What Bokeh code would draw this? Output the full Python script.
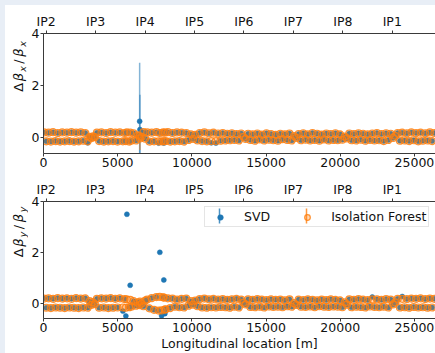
import math
from bokeh.plotting import figure
from bokeh.models import (LinearAxis, FixedTicker, SingleIntervalTicker, Range1d,
                          ColumnDataSource, Legend, LegendItem, Label, BoxAnnotation)
from bokeh.layouts import column, row
from bokeh.embed import file_html
from bokeh.resources import INLINE

# Interaction points along the ring (top axis)
ip_names = ["IP2", "IP3", "IP4", "IP5", "IP6", "IP7", "IP8", "IP1"]
ip_pos = [180, 3512, 6845, 10177, 13510, 16842, 20174, 23507]

# BPM longitudinal positions [m]
bpm_s = [
    30, 190, 340, 500, 650, 810, 960, 1120, 1270, 1430, 1580, 1740, 1890, 2050, 2200, 2360, 2510, 2670, 2820, 2980,
    3100, 3220, 3340, 3460,
    3600, 3750, 3910, 4060, 4220, 4370, 4530, 4680, 4840, 4990, 5150, 5350, 5460, 5550, 5620, 5770, 5840, 5920, 6080, 6230,
    6360, 6480, 6500, 6620, 6740, 6860,
    6990, 7140, 7300, 7450, 7610, 7760, 7840, 7960, 8070, 8110, 8180, 8230, 8380, 8540, 8690, 8850, 9000, 9160, 9310, 9470, 9620,
    9780, 9930, 10080, 10230, 10380,
    10530, 10690, 10840, 11000, 11150, 11310, 11460, 11620, 11770, 11930, 12080, 12240, 12390, 12550, 12700, 12860, 13010, 13170, 13320,
    13480, 13630,
    13790, 13940, 14100, 14250, 14410, 14560, 14720, 14870, 15030, 15180, 15340, 15490, 15650, 15800, 15960, 16110, 16270, 16420, 16580, 16730,
    16890, 17040,
    17200, 17350, 17510, 17660, 17820, 17970, 18130, 18280, 18440, 18590, 18750, 18900, 19060, 19210, 19370, 19520, 19680, 19830, 19990, 20140,
    20300, 20450,
    20610, 20760, 20920, 21070, 21230, 21380, 21540, 21690, 21850, 22000, 22160, 22310, 22470, 22620, 22780, 22930, 23090, 23240, 23400,
    23560, 23710,
    23870, 24020, 24180, 24330, 24490, 24640, 24800, 24950, 25110, 25260, 25420, 25570, 25730, 25880, 26040, 26190, 26350,
]

# Horizontal beta-beating
dbx_svd = [
    0.19, -0.15, 0.18, -0.16, 0.20, -0.14, 0.17, -0.16, 0.19, -0.15, 0.18, -0.14, 0.20, -0.16, 0.18, -0.15, 0.19, -0.13, 0.17, -0.21,
    0.02, -0.03, 0.04, 0.01,
    0.18, -0.14, 0.19, -0.16, 0.17, -0.15, 0.20, -0.14, 0.18, -0.16, 0.19, -0.15, 0.17, -0.14, 0.19, -0.16, 0.18, -0.13, 0.16, -0.12,
    0.08, 0.62, 0.30, 0.02, 0.20, -0.05,
    0.19, -0.16, 0.18, -0.15, 0.20, -0.22, 0.17, -0.15, 0.19, -0.22, 0.18, -0.14, 0.20, -0.16, 0.17, -0.15, 0.19, -0.14, 0.18, -0.16, 0.17,
    -0.10, 0.12, -0.06, 0.10, -0.12,
    0.17, -0.14, 0.19, -0.15, 0.16, -0.21, 0.18, -0.22, 0.15, -0.13, 0.17, -0.12, 0.14, -0.11, 0.16, -0.10, 0.13, -0.12, 0.15,
    0.02, -0.06,
    0.14, -0.10, 0.12, -0.13, 0.15, -0.08, 0.11, -0.12, 0.16, -0.09, 0.13, -0.11, 0.10, -0.13, 0.14, -0.07, 0.12, -0.10, 0.15, -0.12,
    0.05, -0.02,
    0.13, -0.11, 0.16, -0.09, 0.12, -0.12, 0.17, -0.10, 0.14, -0.13, 0.11, -0.08, 0.15, -0.12, 0.13, -0.10, 0.16, -0.11, 0.12, -0.09,
    0.03, -0.04,
    0.15, -0.11, 0.13, -0.12, 0.16, -0.09, 0.14, -0.13, 0.12, -0.10, 0.15, -0.12, 0.17, -0.11, 0.13, -0.14, 0.16, -0.10, 0.14,
    -0.02, 0.06,
    0.17, -0.13, 0.18, -0.12, 0.16, -0.14, 0.19, -0.11, 0.17, -0.15, 0.18, -0.13, 0.16, -0.12, 0.19, -0.14, 0.17,
]
dbx_if = [
    0.19, -0.15, 0.18, -0.16, 0.20, -0.14, 0.17, -0.16, 0.19, -0.15, 0.18, -0.14, 0.20, -0.16, 0.18, -0.15, 0.19, -0.13, 0.17, -0.15,
    0.02, -0.03, 0.04, 0.01,
    0.18, -0.14, 0.19, -0.16, 0.17, -0.15, 0.20, -0.14, 0.18, -0.16, 0.19, -0.15, 0.17, -0.14, 0.19, -0.16, 0.18, -0.13, 0.16, -0.12,
    0.08, 0.05, -0.04, 0.02, 0.20, -0.05,
    0.19, -0.16, 0.18, -0.15, 0.20, -0.15, 0.17, -0.15, 0.19, -0.15, 0.18, -0.14, 0.20, -0.16, 0.17, -0.15, 0.19, -0.14, 0.18, -0.16, 0.17,
    -0.10, 0.12, -0.06, 0.10, -0.12,
    0.17, -0.14, 0.19, -0.15, 0.16, -0.14, 0.18, -0.14, 0.15, -0.13, 0.17, -0.12, 0.14, -0.11, 0.16, -0.10, 0.13, -0.12, 0.15,
    0.02, -0.06,
    0.14, -0.10, 0.12, -0.13, 0.15, -0.08, 0.11, -0.12, 0.16, -0.09, 0.13, -0.11, 0.10, -0.13, 0.14, -0.07, 0.12, -0.10, 0.15, -0.12,
    0.05, -0.02,
    0.13, -0.11, 0.16, -0.09, 0.12, -0.12, 0.17, -0.10, 0.14, -0.13, 0.11, -0.08, 0.15, -0.12, 0.13, -0.10, 0.16, -0.11, 0.12, -0.09,
    0.03, -0.04,
    0.15, -0.11, 0.13, -0.12, 0.16, -0.09, 0.14, -0.13, 0.12, -0.10, 0.15, -0.12, 0.17, -0.11, 0.13, -0.14, 0.16, -0.10, 0.14,
    -0.02, 0.06,
    0.17, -0.13, 0.18, -0.12, 0.16, -0.14, 0.19, -0.11, 0.17, -0.15, 0.18, -0.13, 0.16, -0.12, 0.19, -0.14, 0.17,
]

# Vertical beta-beating
dby_svd = [
    0.20, -0.16, 0.21, -0.17, 0.19, -0.15, 0.22, -0.16, 0.20, -0.17, 0.21, -0.15, 0.19, -0.16, 0.22, -0.17, 0.20, -0.15, 0.21, -0.16,
    0.10, -0.05, 0.06, -0.02,
    0.19, -0.16, 0.21, -0.15, 0.20, -0.17, 0.22, -0.16, 0.19, -0.15, 0.21, -0.29, 0.18, -0.48, 3.50, -0.14, 0.72, -0.12, 0.10, -0.08,
    0.04, -0.06, 0.08, 0.00, -0.10, 0.12,
    0.16, -0.18, 0.22, -0.24, 0.26, -0.27, 2.01, -0.47, 0.25, 0.93, -0.39, -0.22, 0.21, -0.17, 0.20, -0.12, 0.16, -0.14, 0.19, -0.15, 0.20,
    -0.08, 0.10, -0.04, 0.12, -0.10,
    0.18, -0.15, 0.20, -0.16, 0.17, -0.14, 0.19, -0.15, 0.16, -0.13, 0.18, -0.14, 0.15, -0.16, 0.17, -0.12, 0.19, -0.15, 0.16,
    0.04, -0.03,
    0.17, -0.13, 0.15, -0.14, 0.18, -0.12, 0.16, -0.15, 0.14, -0.11, 0.17, -0.13, 0.15, -0.12, 0.16, -0.14, 0.13, -0.10, 0.17, -0.12,
    0.02, -0.05,
    0.16, -0.12, 0.14, -0.13, 0.17, -0.11, 0.15, -0.14, 0.13, -0.10, 0.16, -0.12, 0.14, -0.13, 0.17, -0.11, 0.15, -0.12, 0.13, -0.14,
    0.05, -0.04,
    0.17, -0.14, 0.15, -0.12, 0.18, -0.13, 0.16, -0.15, 0.14, -0.11, 0.26, -0.13, 0.17, -0.14, 0.15, -0.12, 0.18, -0.15, 0.16,
    -0.03, 0.05,
    0.19, -0.15, 0.28, -0.14, 0.18, -0.16, 0.20, -0.13, 0.19, -0.15, 0.21, -0.14, 0.18, -0.16, 0.20, -0.15, 0.19,
]
dby_if = [
    0.20, -0.16, 0.21, -0.17, 0.19, -0.15, 0.22, -0.16, 0.20, -0.17, 0.21, -0.15, 0.19, -0.16, 0.22, -0.17, 0.20, -0.15, 0.21, -0.16,
    0.10, -0.05, 0.06, -0.02,
    0.19, -0.16, 0.21, -0.15, 0.20, -0.17, 0.22, -0.16, 0.19, -0.15, 0.21, -0.15, 0.18, -0.16, 0.17, -0.14, 0.15, -0.12, 0.10, -0.08,
    0.04, -0.06, 0.08, 0.00, -0.10, 0.12,
    0.16, -0.18, 0.22, -0.24, 0.26, -0.27, 0.27, -0.26, 0.25, 0.24, -0.23, -0.22, 0.21, -0.17, 0.20, -0.12, 0.16, -0.14, 0.19, -0.15, 0.20,
    -0.08, 0.10, -0.04, 0.12, -0.10,
    0.18, -0.15, 0.20, -0.16, 0.17, -0.14, 0.19, -0.15, 0.16, -0.13, 0.18, -0.14, 0.15, -0.16, 0.17, -0.12, 0.19, -0.15, 0.16,
    0.04, -0.03,
    0.17, -0.13, 0.15, -0.14, 0.18, -0.12, 0.16, -0.15, 0.14, -0.11, 0.17, -0.13, 0.15, -0.12, 0.16, -0.14, 0.13, -0.10, 0.17, -0.12,
    0.02, -0.05,
    0.16, -0.12, 0.14, -0.13, 0.17, -0.11, 0.15, -0.14, 0.13, -0.10, 0.16, -0.12, 0.14, -0.13, 0.17, -0.11, 0.15, -0.12, 0.13, -0.14,
    0.05, -0.04,
    0.17, -0.14, 0.15, -0.12, 0.18, -0.13, 0.16, -0.15, 0.14, -0.11, 0.17, -0.13, 0.17, -0.14, 0.15, -0.12, 0.18, -0.15, 0.16,
    -0.03, 0.05,
    0.19, -0.15, 0.19, -0.14, 0.18, -0.16, 0.20, -0.13, 0.19, -0.15, 0.21, -0.14, 0.18, -0.16, 0.20, -0.15, 0.19,
]

# Uncertainties that are large enough to show (position, half-width)
dbx_svd_err_s = [6480, 6500]
dbx_svd_err = [2.25, 1.34]
dbx_if_err_s = [6500]
dbx_if_err = [0.45]

for arr in (dbx_svd, dbx_if, dby_svd, dby_if):
    assert len(arr) == len(bpm_s), (len(arr), len(bpm_s))

BLUE = "#1f77b4"
ORANGE = "#ff7f0e"
FONT = "DejaVu Sans"
FS = "12.5px"
AXIS_COLOR = "#3a3a3a"
TEXT_COLOR = "#111111"
X_END = 26420
LABEL_W = 23          # width of the strip holding the rotated y label
PLOT_W = 430 - LABEL_W


def style_axis(ax):
    ax.axis_line_color = AXIS_COLOR
    ax.axis_line_width = 1
    ax.major_tick_line_color = AXIS_COLOR
    ax.major_tick_in = 0
    ax.major_tick_out = 3
    ax.minor_tick_line_color = None
    ax.major_label_text_font = FONT
    ax.major_label_text_font_size = FS
    ax.major_label_text_color = TEXT_COLOR
    ax.major_label_standoff = 1


def err_source(s_list, e_list, vals):
    lookup = dict(zip(bpm_s, vals))
    ys = [lookup[s] for s in s_list]
    return ColumnDataSource(dict(s=s_list,
                                 lo=[y - e for y, e in zip(ys, e_list)],
                                 hi=[y + e for y, e in zip(ys, e_list)]))


def make_panel(height, y_lo, top_border, bottom_border, svd, iso, svd_err=None, iso_err=None,
               xlabel=None):
    p = figure(width=PLOT_W, height=height, output_backend="svg", toolbar_location=None,
               x_range=Range1d(0, X_END), y_range=Range1d(y_lo, 4.0),
               min_border_left=15, min_border_right=0,
               min_border_top=top_border, min_border_bottom=bottom_border,
               background_fill_color="white", border_fill_color="white")
    p.outline_line_color = None
    p.grid.visible = False

    p.xaxis.ticker = SingleIntervalTicker(interval=5000, num_minor_ticks=0)
    p.yaxis.ticker = SingleIntervalTicker(interval=2, num_minor_ticks=0)
    style_axis(p.xaxis[0])
    style_axis(p.yaxis[0])
    if xlabel:
        p.xaxis.axis_label = xlabel
        p.xaxis.axis_label_text_font = FONT
        p.xaxis.axis_label_text_font_size = FS
        p.xaxis.axis_label_text_font_style = "normal"
        p.xaxis.axis_label_standoff = 1
        p.xaxis.axis_label_text_color = TEXT_COLOR

    top = LinearAxis(ticker=FixedTicker(ticks=ip_pos, minor_ticks=[]),
                     major_label_overrides={pos: name for pos, name in zip(ip_pos, ip_names)})
    style_axis(top)
    top.major_label_standoff = 2
    p.add_layout(top, "above")

    if svd_err is not None:
        p.segment(x0="s", y0="lo", x1="s", y1="hi", source=svd_err,
                  line_color=BLUE, line_alpha=0.55, line_width=1.5)
    if iso_err is not None:
        p.segment(x0="s", y0="lo", x1="s", y1="hi", source=iso_err,
                  line_color=ORANGE, line_alpha=0.55, line_width=1.5)

    r_svd = p.scatter(bpm_s, svd, size=5, fill_color=BLUE, line_color=BLUE, line_width=0.5)
    r_iso = p.scatter(bpm_s, iso, size=7, fill_color=ORANGE, fill_alpha=0.3,
                      line_color=ORANGE, line_alpha=0.85, line_width=1.2)
    return p, r_svd, r_iso


def label_strip(height, sub, y0):
    # narrow strip carrying the rotated "Δβ_sub/β_sub" label;
    # anchors sit on the descent line so every glyph lies left of its anchor
    f = figure(width=LABEL_W, height=height, output_backend="svg", toolbar_location=None,
               x_range=Range1d(0, 1), y_range=Range1d(0, 1),
               x_axis_location=None, y_axis_location=None,
               min_border=0, background_fill_color="white", border_fill_color="white")
    f.grid.visible = False
    f.outline_line_color = None
    pieces = [("Δ", 0, "normal", "13px", 20.9),
              ("β", 10.5, "italic", "13px", 20.9),
              (sub, 20, "italic", "9.5px", 22.3),
              ("/", 28, "normal", "13px", 20.9),
              ("β", 35, "italic", "13px", 20.9),
              (sub, 45, "italic", "9.5px", 22.3)]
    for txt, off, style, size, ax in pieces:
        f.add_layout(Label(x=ax, y=y0 + off, x_units="screen", y_units="screen",
                           text=txt, angle=math.pi / 2, angle_units="rad",
                           text_font=FONT, text_font_size=size, text_font_style=style,
                           text_color=TEXT_COLOR, text_align="left",
                           text_baseline="bottom"))
    return f


p1, _, _ = make_panel(170, -0.62, 28, 22, dbx_svd, dbx_if,
                      svd_err=err_source(dbx_svd_err_s, dbx_svd_err, dbx_svd),
                      iso_err=err_source(dbx_if_err_s, dbx_if_err, dbx_if))
lab1 = label_strip(170, "x", 61.7)

p2, r_svd, r_iso = make_panel(178, -0.58, 26, 33, dby_svd, dby_if,
                              xlabel="Longitudinal location [m]")
lab2 = label_strip(178, "y", 61.3)

# vertical error-bar strokes behind the legend glyphs
for cx, col in ((176, BLUE), (263, ORANGE)):
    p2.add_layout(BoxAnnotation(left=cx - 0.75, right=cx + 0.75, bottom=95, top=110,
                                left_units="screen", right_units="screen",
                                top_units="screen", bottom_units="screen",
                                fill_color=col, fill_alpha=0.8, line_color=None))

legend = Legend(items=[LegendItem(label="SVD", renderers=[r_svd]),
                       LegendItem(label="Isolation Forest", renderers=[r_iso])],
                orientation="horizontal", location=(161, 91),
                glyph_width=26, glyph_height=14, label_height=14, label_width=20,
                label_standoff=11, spacing=24, padding=2, margin=0,
                label_text_font=FONT, label_text_font_size=FS, label_text_color=TEXT_COLOR,
                border_line_color="#cccccc", border_line_width=1,
                background_fill_color=None)
p2.add_layout(legend, "center")

inner = column(row(lab1, p1, spacing=0), row(lab2, p2, spacing=0), spacing=0,
               margin=(5, 0, 0, 5), styles={"background-color": "white"})
layout = column(inner, styles={"background-color": "#e8eef6"})

open("out.html", "w").write(file_html(layout, INLINE))
